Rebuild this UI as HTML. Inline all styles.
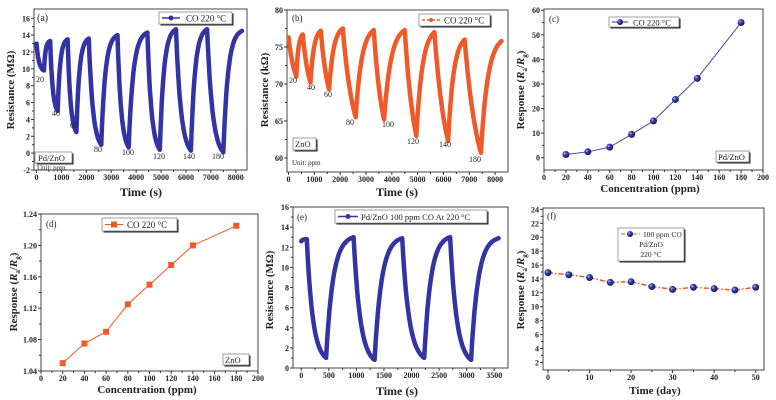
<!DOCTYPE html>
<html><head><meta charset="utf-8"><style>
html,body{margin:0;padding:0;background:#fff}
svg{display:block;font-family:"Liberation Serif",serif}
</style></head><body>
<svg id="fig" width="776" height="400" viewBox="0 0 776 400">
<defs>
<radialGradient id="ball" cx="0.35" cy="0.35" r="0.7"><stop offset="0" stop-color="#b8bcf0"/><stop offset="0.35" stop-color="#3a3fb0"/><stop offset="1" stop-color="#101450"/></radialGradient>
</defs>
</svg>
<script>
// Panel (a) Pd/ZnO dynamic response: alternating extrema (peak, min, ...)
const aTimes=[0,300,550,850,1250,1600,2100,2600,3250,3700,4450,4950,5600,6200,6850,7500,8250];
const aRes=[13,9.8,13.3,5,13.5,2.5,13.6,1.0,14.0,0.7,14.3,0.4,14.7,0.3,14.7,0.1,14.5];
const aConcLabels=["20","40","60","80","100","120","140","180"];
// Panel (b) ZnO
const bTimes=[0,300,550,850,1250,1570,2100,2600,3300,3700,4500,4950,5650,6180,6820,7450,8250];
const bRes=[76.3,71,76.7,70.2,77.2,69.3,77.5,65.5,77.3,65.2,77.3,63,77,62.3,76,60.7,75.8];
// Panel (c) Pd/ZnO response vs concentration
const cConc=[20,40,60,80,100,120,140,180];
const cResp=[1.3,2.4,4.3,9.5,15,23.7,32.3,55];
// Panel (d) ZnO response vs concentration
const dConc=[20,40,60,80,100,120,140,180];
const dResp=[1.05,1.075,1.09,1.125,1.15,1.175,1.2,1.225];
// Panel (e) repeatability
const eTimes=[0,100,450,950,1330,1830,2230,2700,3080,3580];
const eRes=[12.6,12.8,1.0,13.0,0.8,12.9,1.0,13.0,0.8,12.9];
// Panel (f) stability
const fDays=[0,5,10,15,20,25,30,35,40,45,50];
const fResp=[14.9,14.6,14.2,13.5,13.6,12.9,12.5,12.8,12.6,12.4,12.8];
// tick labels
const aXTicks=[0,1000,2000,3000,4000,5000,6000,7000,8000];
const aYTicks=[-2,0,2,4,6,8,10,12,14,16];
const bXTicks=[0,1000,2000,3000,4000,5000,6000,7000,8000];
const bYTicks=[60,65,70,75,80];
const cXTicks=[0,20,40,60,80,100,120,140,160,180,200];
const cYTicks=[0,10,20,30,40,50,60];
const dXTicks=[0,20,40,60,80,100,120,140,160,180,200];
const dYTicks=[1.04,1.08,1.12,1.16,1.20,1.24];
const eXTicks=[0,500,1000,1500,2000,2500,3000,3500];
const eYTicks=[0,2,4,6,8,10,12,14,16];
const fXTicks=[0,10,20,30,40,50];
const fYTicks=[2,4,6,8,10,12,14,16,18,20,22,24];

const NS="http://www.w3.org/2000/svg";
const svg=document.getElementById('fig');
function mk(tag,attrs,parent,text){const e=document.createElementNS(NS,tag);for(const k in attrs)e.setAttribute(k,attrs[k]);if(text!==undefined)e.textContent=text;(parent||svg).appendChild(e);return e;}
const BLUE="#3333a6",ORANGE="#f05a28";

function panel(name,box,xd,yd,xt,yt,fmtX,fmtY){
  const g=mk('g',{});
  
  
  const sx=v=>box.x0+(v-xd[0])/(xd[1]-xd[0])*(box.x1-box.x0);
  const sy=v=>box.y1-(v-yd[0])/(yd[1]-yd[0])*(box.y1-box.y0);
  const fr=mk('rect',{x:box.x0,y:box.y0,width:box.x1-box.x0,height:box.y1-box.y0,fill:'none',stroke:'#444','stroke-width':1},g);
  
  
  xt.forEach((v,i)=>{const x=sx(v);mk('line',{x1:x,x2:x,y1:box.y1,y2:box.y1+3,stroke:'#333'},g);
    if(i<xt.length-1){const xm=sx((v+xt[i+1])/2);mk('line',{x1:xm,x2:xm,y1:box.y1,y2:box.y1+2,stroke:'#333'},g);}
    const t=mk('text',{x:x,y:box.y1+10,'text-anchor':'middle','font-size':8,'font-weight':'bold',fill:'#222'},g,fmtX?fmtX(v):v);
    
    });
  yt.forEach((v,i)=>{const y=sy(v);mk('line',{x1:box.x0-3,x2:box.x0,y1:y,y2:y,stroke:'#333'},g);
    if(i<yt.length-1){const ym=sy((v+yt[i+1])/2);mk('line',{x1:box.x0-2,x2:box.x0,y1:ym,y2:ym,stroke:'#333'},g);}
    const t=mk('text',{x:box.x0-4,y:y+3,'text-anchor':'end','font-size':8,'font-weight':'bold',fill:'#222'},g,fmtY?fmtY(v):v);
    
    });
  return {g,sx,sy};
}
function transient(P,T,V,kd,kr,color,w){
  let pts=[];
  for(let i=0;i<T.length-1;i++){
    const a=V[i],b=V[i+1],drop=b<a,k=drop?kd:kr,n=24;
    for(let j=(i?1:0);j<=n;j++){const f=j/n;
      const s=drop?(1-(Math.exp(-k*f)-Math.exp(-k))/(1-Math.exp(-k))):((1-Math.exp(-k*f))/(1-Math.exp(-k)));
      pts.push([P.sx(T[i]+(T[i+1]-T[i])*f),P.sy(a+(b-a)*s)]);}
  }
  const p=mk('path',{d:'M'+pts.map(q=>q[0].toFixed(1)+','+q[1].toFixed(1)).join('L'),fill:'none',stroke:color,'stroke-width':w,'stroke-linejoin':'round','stroke-linecap':'round'},P.g);
  
  
}
function txt(x,y,s,size,name,anchor,weight){const t=mk('text',{x:x,y:y,'font-size':size,'text-anchor':anchor||'start','font-weight':weight||'normal',fill:'#222'},svg,s);
  
  return t;}
function box(x,y,w,h,name){const r=mk('rect',{x:x+1.5,y:y+1.5,width:w,height:h,fill:'#222'});const b=mk('rect',{x:x,y:y,width:w,height:h,fill:'#fff',stroke:'#888','stroke-width':0.8});
  
  }
function ytitle(x,cy,parts,name){const t=mk('text',{transform:`translate(${x},${cy}) rotate(-90)`,'text-anchor':'middle','font-size':11,'font-weight':'bold',fill:'#222'});
  
  
  parts.forEach(p=>{const s=mk('tspan',p.a||{},t,p.s);});}
function respTitle(x,cy,name){ytitle(x,cy,[{s:'Response ('},{s:'R',a:{'font-style':'italic'}},{s:'a',a:{'font-size':7,dy:3}},{s:'/',a:{dy:-3}},{s:'R',a:{'font-style':'italic'}},{s:'g',a:{'font-size':7,dy:3}},{s:')',a:{dy:-3}}],name);}
function ball(P,x,y,r){const c=mk('circle',{cx:P.sx(x),cy:P.sy(y),r:r,fill:'url(#ball)'},P.g);
  
  }

// (a)
const A=panel('panel-a',{x0:34,x1:247,y0:9,y1:170},[-100,8450],[-2,17.1],aXTicks,aYTicks);
transient(A,aTimes,aRes,3,4,BLUE,4.5);
const aLab=[[40,82],[56,116],[74,128],[98,152],[128,155],[159,159],[189,159],[218,159]];
aConcLabels.forEach((s,i)=>txt(aLab[i][0],aLab[i][1],s,8,'conc-label','middle'));
txt(37,21,'(a)',10,'panel-label');
box(159,12,73,12,'legend-a');
mk('line',{x1:162,x2:180,y1:18,y2:18,stroke:BLUE,'stroke-width':1.5});mk('circle',{cx:171,cy:18,r:2.5,fill:BLUE});
txt(186,21.5,'CO  220 °C',9,'legend-a-label');
box(35,152,37,11,'material-box-a');txt(38,161,'Pd/ZnO',8.5,'material-a');
txt(37,170,'Unit: ppm',7,'unit-a');
txt(141,196,'Time (s)',12,'x-axis-title-a','middle','bold');
ytitle(14,90,[{s:'Resistance (MΩ)'}],'y-axis-title-a');

// (b)
const B=panel('panel-b',{x0:287,x1:508,y0:10,y1:172},[-60,8500],[58.1,80],bXTicks,bYTicks);
transient(B,bTimes,bRes,1.2,3,ORANGE,4.5);
const bLab=[[293,83],[311,90],[328,97],[350,125],[388,127],[413,144],[445,147],[475,162]];
aConcLabels.forEach((s,i)=>txt(bLab[i][0],bLab[i][1],s,8,'conc-label','middle'));
txt(292,21,'(b)',9,'panel-label');
box(419,14,71,12,'legend-b');
mk('line',{x1:422,x2:440,y1:20,y2:20,stroke:ORANGE,'stroke-width':1.5,'stroke-dasharray':'3 2'});mk('circle',{cx:431,cy:20,r:2,fill:ORANGE});
txt(444,23.5,'CO  220 °C',9,'legend-b-label');
box(293,138,23,12,'material-box-b');txt(295,147,'ZnO',8.5,'material-b');
txt(292,165,'Unit: ppm',7,'unit-b');
txt(397,196,'Time (s)',12,'x-axis-title-b','middle','bold');
ytitle(268,90,[{s:'Resistance (kΩ)'}],'y-axis-title-b');

// (c)
const C=panel('panel-c',{x0:544,x1:763,y0:9,y1:170},[0,200],[-5,60.5],cXTicks,cYTicks);
const cl=mk('polyline',{points:cConc.map((v,i)=>C.sx(v)+','+C.sy(cResp[i])).join(' '),fill:'none',stroke:'#4444b0','stroke-width':1},C.g);


cConc.forEach((v,i)=>ball(C,v,cResp[i],3.5));
txt(549,22,'(c)',9,'panel-label');
box(609,17,70,10,'legend-c');
mk('line',{x1:612,x2:628,y1:22,y2:22,stroke:BLUE});mk('circle',{cx:620,cy:22,r:3,fill:'url(#ball)'});
txt(633,25.5,'CO  220 °C',8.5,'legend-c-label');
box(716,151,33,11,'material-box-c');txt(718,160,'Pd/ZnO',8.5,'material-c');
txt(650,192,'Concentration (ppm)',11,'x-axis-title-c','middle','bold');
respTitle(524,90,'y-axis-title-c');

// (d)
const D=panel('panel-d',{x0:41,x1:258,y0:214,y1:371},[0,200],[1.04,1.24],dXTicks,dYTicks,null,v=>v.toFixed(2));
const dl=mk('polyline',{points:dConc.map((v,i)=>D.sx(v)+','+D.sy(dResp[i])).join(' '),fill:'none',stroke:ORANGE,'stroke-width':1},D.g);


dConc.forEach((v,i)=>{const r=mk('rect',{x:D.sx(v)-3,y:D.sy(dResp[i])-3,width:6,height:6,fill:ORANGE},D.g);
  
  });
txt(46,227,'(d)',9,'panel-label');
box(102,218,75,13,'legend-d');
mk('line',{x1:105,x2:123,y1:224.5,y2:224.5,stroke:ORANGE});mk('rect',{x:111,y:221.5,width:6,height:6,fill:ORANGE});
txt(127,228,'CO   220 °C',9,'legend-d-label');
box(223,354,26,11,'material-box-d');txt(225,363,'ZnO',8.5,'material-d');
txt(147,393,'Concentration (ppm)',11,'x-axis-title-d','middle','bold');
respTitle(17,292,'y-axis-title-d');

// (e)
const E=panel('panel-e',{x0:293,x1:508,y0:207,y1:368},[-150,3750],[0,16],eXTicks,eYTicks);
transient(E,eTimes,eRes,3.2,4,BLUE,4.5);
txt(297,220,'(e)',9,'panel-label');
box(335,210,152,13,'legend-e');
mk('line',{x1:338,x2:358,y1:216.5,y2:216.5,stroke:BLUE,'stroke-width':1.5});mk('circle',{cx:348,cy:216.5,r:2.5,fill:BLUE});
txt(361,220,'Pd/ZnO  100 ppm CO  At 220 °C',8.5,'legend-e-label');
txt(397,395,'Time (s)',12,'x-axis-title-e','middle','bold');
ytitle(273,290,[{s:'Resistance (MΩ)'}],'y-axis-title-e');

// (f)
const F=panel('panel-f',{x0:543,x1:764,y0:208,y1:370},[-1.2,52],[0.9,24.2],fXTicks,fYTicks);
const fl=mk('polyline',{points:fDays.map((v,i)=>F.sx(v)+','+F.sy(fResp[i])).join(' '),fill:'none',stroke:ORANGE,'stroke-width':1.5,'stroke-dasharray':'5 2 1.5 2'},F.g);


fDays.forEach((v,i)=>ball(F,v,fResp[i],3.5));
txt(547,219,'(f)',9,'panel-label');
box(618,228,66,33,'legend-f');
mk('line',{x1:621,x2:640,y1:234,y2:234,stroke:ORANGE,'stroke-dasharray':'4 2'});mk('circle',{cx:630,cy:234,r:3,fill:'url(#ball)'});
txt(643,237,'100 ppm CO',7.5,'legend-f-label');
txt(651,247,'Pd/ZnO',7.5,'legend-f-material','middle');
txt(651,257,'220 °C',7.5,'legend-f-temp','middle');
txt(655,394,'Time (day)',11,'x-axis-title-f','middle','bold');
respTitle(524,290,'y-axis-title-f');
</script>
</body></html>
